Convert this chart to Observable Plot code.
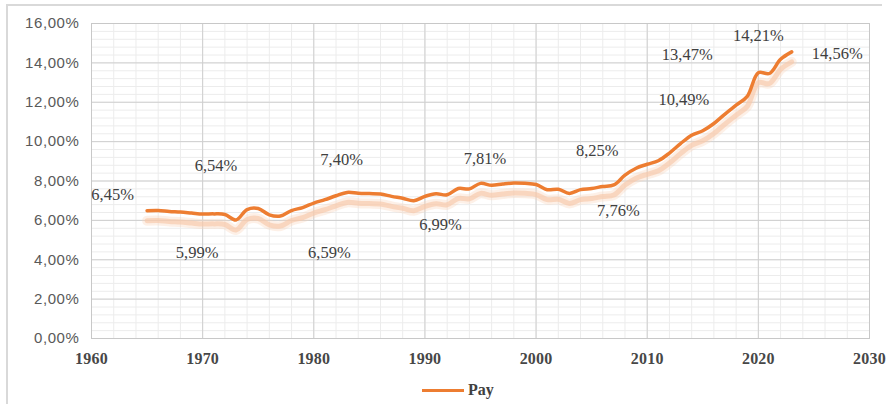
<!DOCTYPE html>
<html>
<head>
<meta charset="utf-8">
<script src="https://cdn.jsdelivr.net/npm/d3@7"></script>
<script src="https://cdn.jsdelivr.net/npm/@observablehq/plot@0.6"></script>
<style>
  html, body { margin: 0; padding: 0; background: #fff; width: 891px; height: 404px; overflow: hidden; }
  #wrap { position: relative; width: 891px; height: 404px; }
  #frame { position: absolute; left: 6px; top: 4px; width: 876px; height: 400px;
           border-top: 2px solid #d9d9d9; border-left: 2px solid #d9d9d9; box-sizing: border-box; }
  #chart { position: absolute; left: 0; top: 0; }
  #chart svg [aria-label^="y-axis"] text { font-family: "Liberation Sans", Arial, sans-serif; font-size: 15px; fill: #595959; letter-spacing: 0.6px; }
  #chart svg [aria-label^="x-axis"] text { font-family: "Liberation Serif", "Times New Roman", serif; font-size: 16px; font-weight: bold; fill: #474747; letter-spacing: 0.2px; }
  #legend { position: absolute; left: 422px; top: 381px; display: flex; align-items: center;
            font-family: "Liberation Serif", "Times New Roman", serif; font-weight: bold; font-size: 16px; color: #404040; }
  #legend .sw { width: 42px; height: 3px; background: #ed7d31; margin-right: 4px; }
</style>
</head>
<body>
<div id="wrap">
  <div id="frame"></div>
  <div id="chart"></div>
  <div id="legend"><span class="sw"></span><span>Pay</span></div>
</div>
<script>
// Series: Pay (%), by year
const years = [1965,1966,1967,1968,1969,1970,1971,1972,1973,1974,1975,1976,1977,1978,1979,
  1980,1981,1982,1983,1984,1985,1986,1987,1988,1989,1990,1991,1992,1993,1994,1995,1996,1997,1998,1999,
  2000,2001,2002,2003,2004,2005,2006,2007,2008,2009,2010,2011,2012,2013,2014,2015,2016,2017,2018,2019,
  2020,2021,2022,2023];
const pay = [6.49,6.50,6.45,6.42,6.37,6.32,6.33,6.30,6.02,6.55,6.60,6.28,6.22,6.50,6.65,
  6.88,7.05,7.25,7.42,7.38,7.36,7.34,7.22,7.12,7.00,7.22,7.35,7.30,7.62,7.60,7.88,7.78,7.85,7.90,7.88,
  7.82,7.56,7.58,7.37,7.56,7.62,7.72,7.80,8.30,8.65,8.85,9.03,9.42,9.90,10.32,10.55,10.92,11.40,11.85,12.30,
  13.50,13.46,14.18,14.56];

// Data labels (text and where they sit, in data units)
const labelText  = ["6,45%","6,54%","5,99%","7,40%","6,59%","6,99%","7,81%","8,25%","7,76%","10,49%","13,47%","14,21%","14,56%"];
const labelYear  = [1961.9,1971.2,1969.5,1982.5,1981.4,1991.4,1995.4,2005.5,2007.4,2013.3,2013.6,2020.0,2027.1];
const labelValue = [7.3,8.77,4.38,9.06,4.38,5.78,9.11,9.53,6.49,12.12,14.4,15.4,14.44];

// Axis ticks
const xTicks = [1960,1970,1980,1990,2000,2010,2020,2030];
const yTicks = [0,2,4,6,8,10,12,14,16];
const xMinor = d3.range(1960, 2030.01, 2);
const yMinor = d3.range(0, 16.01, 0.4);

const data = years.map((y, i) => ({year: y, value: pay[i]}));
const labels = labelText.map((t, i) => ({text: t, year: labelYear[i], value: labelValue[i]}));

const fmt = d => d.toFixed(2).replace(".", ",") + "%";

const chart = Plot.plot({
  width: 891,
  height: 375,
  marginLeft: 91,
  marginRight: 22,
  marginTop: 23,
  marginBottom: 37,
  x: {domain: [1960, 2030], ticks: xTicks, tickFormat: d => String(d), tickSize: 0, tickPadding: 14, label: null},
  y: {domain: [0, 16], ticks: yTicks, tickFormat: fmt, tickSize: 0, tickPadding: 12, label: null},
  marks: [
    Plot.ruleX(xMinor, {stroke: "#ececec", strokeWidth: 1}),
    Plot.ruleY(yMinor, {stroke: "#ececec", strokeWidth: 1}),
    Plot.ruleX(xTicks, {stroke: "#cfcfcf", strokeWidth: 1}),
    Plot.ruleY(yTicks, {stroke: "#cfcfcf", strokeWidth: 1}),
    Plot.frame({stroke: "#c8c8c8"}),
    Plot.line(data, {x: "year", y: "value", dy: 10, stroke: "#f8d3bb", strokeWidth: 10, strokeOpacity: 0.35, curve: "catmull-rom"}),
    Plot.line(data, {x: "year", y: "value", dy: 10, stroke: "#f7c8a9", strokeWidth: 5, strokeOpacity: 0.65, curve: "catmull-rom"}),
    Plot.line(data, {x: "year", y: "value", stroke: "#ed7d31", strokeWidth: 3.5, curve: "catmull-rom"}),
    Plot.text(labels, {x: "year", y: "value", text: "text", fontFamily: "Liberation Serif, Times New Roman, serif",
      fontSize: 16.5, fill: "#404040", textAnchor: "middle"})
  ]
});
document.getElementById("chart").appendChild(chart);
</script>
</body>
</html>
